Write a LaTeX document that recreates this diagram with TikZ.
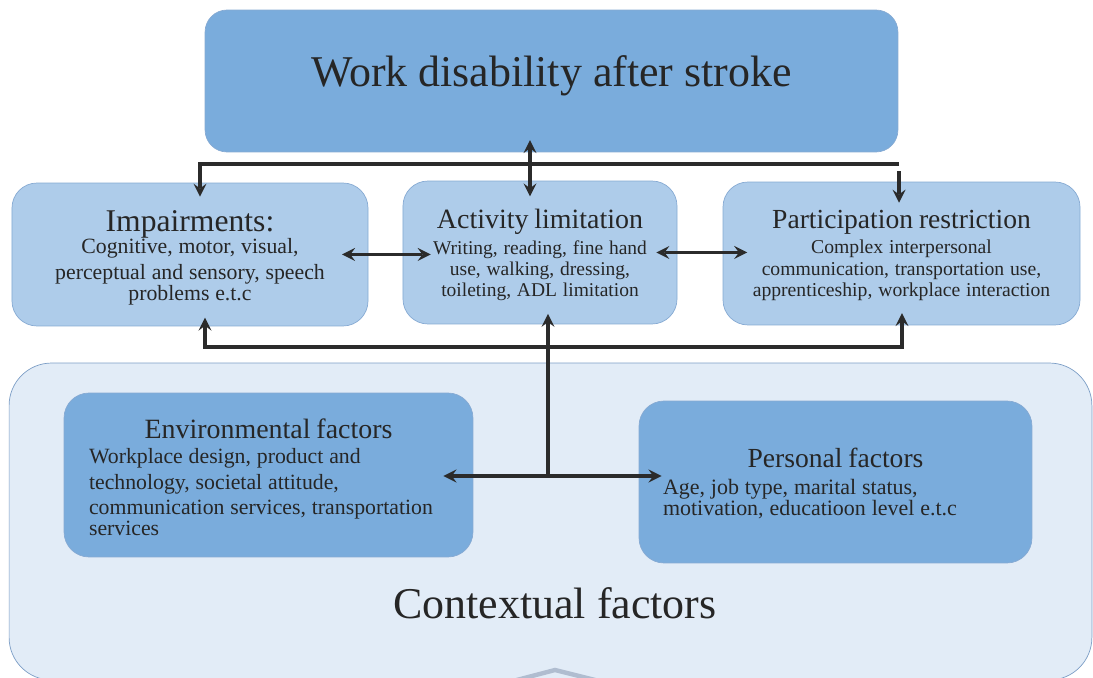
\documentclass[tikz,border=0pt]{standalone}
\usepackage{fontspec}
\setmainfont{Liberation Serif}
\usetikzlibrary{arrows}
\definecolor{darkblue}{HTML}{7AACDC}
\definecolor{lightblue}{HTML}{AECCEA}
\definecolor{paleblue}{HTML}{E2ECF7}
\definecolor{edgeblue}{HTML}{86AAD3}
\definecolor{outeredge}{HTML}{7C9EC6}
\definecolor{arrowgrey}{HTML}{2B2B2B}
\definecolor{textgrey}{HTML}{262626}
\definecolor{smudge}{HTML}{B0BDD0}
\tikzstyle{mainbox} = [rectangle, rounded corners=0.44cm, minimum width=13.86cm, minimum height=2.84cm, text centered, draw=edgeblue, fill=darkblue]
\tikzstyle{dimbox} = [rectangle, rounded corners=0.5cm, minimum height=2.86cm, inner sep=5pt, align=center, draw=edgeblue, fill=lightblue]
\tikzstyle{factorbox} = [rectangle, rounded corners=0.5cm, inner sep=5pt, align=left, draw=edgeblue, fill=darkblue]
\tikzstyle{contextbox} = [rectangle, rounded corners=0.85cm, minimum width=21.66cm, minimum height=6.34cm, draw=outeredge, fill=paleblue]
\tikzstyle{arrow} = [line width=2.2pt, ->, >=stealth, draw=arrowgrey]
\tikzstyle{twoway} = [line width=2.2pt, <->, >=stealth, draw=arrowgrey]

\begin{document}
\begin{tikzpicture}[x=0.02cm, y=-0.02cm, text=textgrey]
	\clip (0,0) rectangle (1093,678);
	\node (context) [contextbox] at (550.5,521.5) {};
	\node (ctxlabel) at (555,603) {\fontsize{25}{28}\selectfont Contextual factors};
	\draw [line width=2.5pt, draw=smudge] (513,681) -- (555,670) -- (599,681);

	\node (work) [mainbox, text height=17pt, text depth=10.2pt] at (551.5,81) {\fontsize{25}{28}\selectfont Work disability after stroke};
	\node (impair) [dimbox, minimum width=7.12cm, text width=6.77cm] at (190,254.5) {{\fontsize{18}{18}\selectfont\rule{0pt}{15.8pt}Impairments:\par}\vspace{-2.3pt}\fontsize{12.4}{14.8}\selectfont Cognitive, motor, visual,\\ perceptual and sensory, speech\\ problems e.t.c};
	\node (act) [dimbox, minimum width=5.48cm, text width=5.13cm] at (540,252.5) {{\fontsize{15.9}{16}\selectfont\rule{0pt}{13.7pt}Activity limitation\par}\vspace{2.6pt}\fontsize{11.1}{12.2}\selectfont Writing, reading, fine hand\\ use, walking, dressing,\\ toileting, ADL limitation};
	\node (partic) [dimbox, minimum width=7.14cm, text width=6.79cm] at (901.5,253.5) {{\fontsize{15.7}{16}\selectfont\rule{0pt}{12.5pt}Participation restriction\par}\vspace{1.9pt}\fontsize{11.2}{12.5}\selectfont Complex interpersonal\\ communication, transportation use,\\ apprenticeship, workplace interaction};
	\node (env) [factorbox, minimum width=8.18cm, minimum height=3.28cm, text width=7.18cm] at (268.5,475) {{\centering\fontsize{15.9}{16}\selectfont\rule{0pt}{13.5pt}Environmental factors\par}\vspace{0.2pt}\fontsize{12.4}{14.4}\selectfont Workplace design, product and\\ technology, societal attitude,\\ communication services, transportation\\ services};
	\node (person) [factorbox, minimum width=7.86cm, minimum height=3.24cm, text width=6.9cm] at (835.5,482) {{\centering\fontsize{15.7}{16}\selectfont\rule{0pt}{12.5pt}Personal factors\par}\vspace{1.7pt}\fontsize{12.5}{13.7}\selectfont Age, job type, marital status,\\ motivation, educatioon level e.t.c};

	\coordinate (topl) at (200,164);
	\coordinate (topm) at (530,164);
	\coordinate (topr) at (899,164);
	\coordinate (botl) at (205,347);
	\coordinate (botm) at (548,347);
	\coordinate (botr) at (902,347);
	\coordinate (hub) at (548,476);

	\draw [arrow, shorten >=-8pt] (topr) -- (topl) -- (impair.north -| topl);
	\draw [arrow, shorten <=4pt, shorten >=-12pt] (topr) -- (partic.north -| topr);
	\draw [twoway, shorten <=-7pt, shorten >=-9pt] (work.south -| topm) -- (act.north -| topm);
	\draw [twoway, shorten <=-15pt, shorten >=-16pt] (impair.east) -- (impair.east -| act.west);
	\draw [twoway, shorten <=-12pt, shorten >=-14pt] (act.east) -- (act.east -| partic.west);
	\draw [twoway, shorten <=-5pt, shorten >=-7pt] (impair.south -| botl) -- (botl) -- (botr) -- (partic.south -| botr);
	\draw [arrow, shorten >=-6pt] (hub) -- (botm) -- (act.south -| botm);
	\draw [twoway, shorten <=-17pt, shorten >=-13pt] (env.east |- hub) -- (person.west |- hub);
\end{tikzpicture}
\end{document}
